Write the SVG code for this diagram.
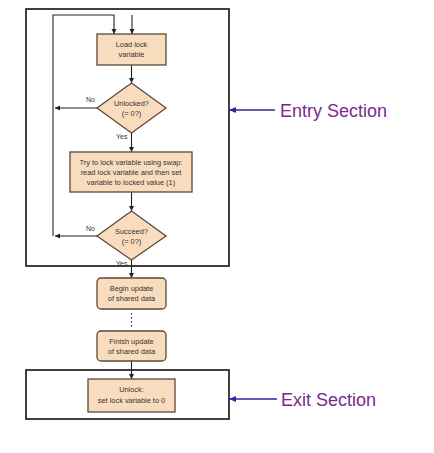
<svg xmlns="http://www.w3.org/2000/svg" width="434" height="453" viewBox="0 0 434 453">
<defs>
<marker id="ah" markerWidth="6" markerHeight="6" refX="5" refY="3" orient="auto" markerUnits="userSpaceOnUse">
<path d="M0,0.5 L5,3 L0,5.5 Z" fill="#222"/>
</marker>
<marker id="bh" markerWidth="8" markerHeight="8" refX="7" refY="4" orient="auto" markerUnits="userSpaceOnUse">
<path d="M0,1 L7,4 L0,7 Z" fill="#2a2aa0"/>
</marker>
<style>
.sec{fill:none;stroke:#111;stroke-width:1.6}
.nd{fill:#f9dcbe;stroke:#5a4a3a;stroke-width:1.3}
.ln{fill:none;stroke:#222;stroke-width:1.1}
.t{font-family:"Liberation Sans",Arial,sans-serif;font-size:7.4px;fill:#333;text-anchor:middle}
.lb{font-family:"Liberation Sans",Arial,sans-serif;font-size:7px;fill:#333}
.big{font-family:"Liberation Sans",Arial,sans-serif;font-size:18px;fill:#7a2a8c}
.bl{stroke:#2a2aa0;stroke-width:1.6;fill:none}
</style>
</defs>
<rect width="434" height="453" fill="#fff"/>
<g id="entry-section"><rect class="sec" x="26" y="9" width="203" height="257"/></g>
<g id="exit-section"><rect class="sec" x="26" y="370" width="203" height="49"/></g>
<g id="connectors">
<path class="ln" d="M132,15 L132,34" marker-end="url(#ah)"/>
<path class="ln" d="M53,236 L53,15 L114,15 L114,34" marker-end="url(#ah)"/>
<path class="ln" d="M131.5,65 L131.5,83" marker-end="url(#ah)"/>
<path class="ln" d="M97,108 L55,108" marker-end="url(#ah)"/>
<path class="ln" d="M131.5,133 L131.5,152" marker-end="url(#ah)"/>
<path class="ln" d="M131.5,192 L131.5,211" marker-end="url(#ah)"/>
<path class="ln" d="M97,236 L55,236" marker-end="url(#ah)"/>
<path class="ln" d="M131.5,260 L131.5,278" marker-end="url(#ah)"/>
<path class="ln" d="M131.5,313 L131.5,328" stroke-dasharray="1.5,2.5"/>
<path class="ln" d="M131.5,361 L131.5,379" marker-end="url(#ah)"/>
<text class="lb" x="86" y="102">No</text>
<text class="lb" x="116" y="139">Yes</text>
<text class="lb" x="86" y="231">No</text>
<text class="lb" x="116" y="266">Yes</text>
<path class="bl" d="M275,110 L229,110" marker-end="url(#bh)"/>
<path class="bl" d="M277,399 L229,399" marker-end="url(#bh)"/>
</g>
<g id="load"><rect class="nd" x="97" y="34" width="69" height="31"/><text class="t" x="131.5" y="47">Load lock</text><text class="t" x="131.5" y="57">variable</text></g>
<g id="unlocked"><path class="nd" d="M131.5,83 L166,108 L131.5,133 L97,108 Z"/><text class="t" x="131.5" y="106">Unlocked?</text><text class="t" x="131.5" y="116">(= 0?)</text></g>
<g id="try"><rect class="nd" x="70" y="152" width="122" height="40"/><text class="t" x="131" y="165">Try to lock variable using swap:</text><text class="t" x="131" y="175">read lock variable and then set</text><text class="t" x="131" y="185">variable to locked value (1)</text></g>
<g id="succeed"><path class="nd" d="M131.5,211 L166,236 L131.5,260 L97,236 Z"/><text class="t" x="131.5" y="234">Succeed?</text><text class="t" x="131.5" y="244">(= 0?)</text></g>
<g id="begin"><rect class="nd" x="97" y="278" width="69" height="31" rx="4"/><text class="t" x="131.5" y="291">Begin update</text><text class="t" x="131.5" y="301">of shared data</text></g>
<g id="finish"><rect class="nd" x="97" y="331" width="69" height="30" rx="4"/><text class="t" x="131.5" y="344">Finish update</text><text class="t" x="131.5" y="354">of shared data</text></g>
<g id="unlock"><rect class="nd" x="88" y="379" width="87" height="33"/><text class="t" x="131.5" y="392">Unlock:</text><text class="t" x="131.5" y="403">set lock variable to 0</text></g>
<g id="labels"><text class="big" x="280" y="117">Entry Section</text><text class="big" x="281" y="406">Exit Section</text></g>
</svg>
